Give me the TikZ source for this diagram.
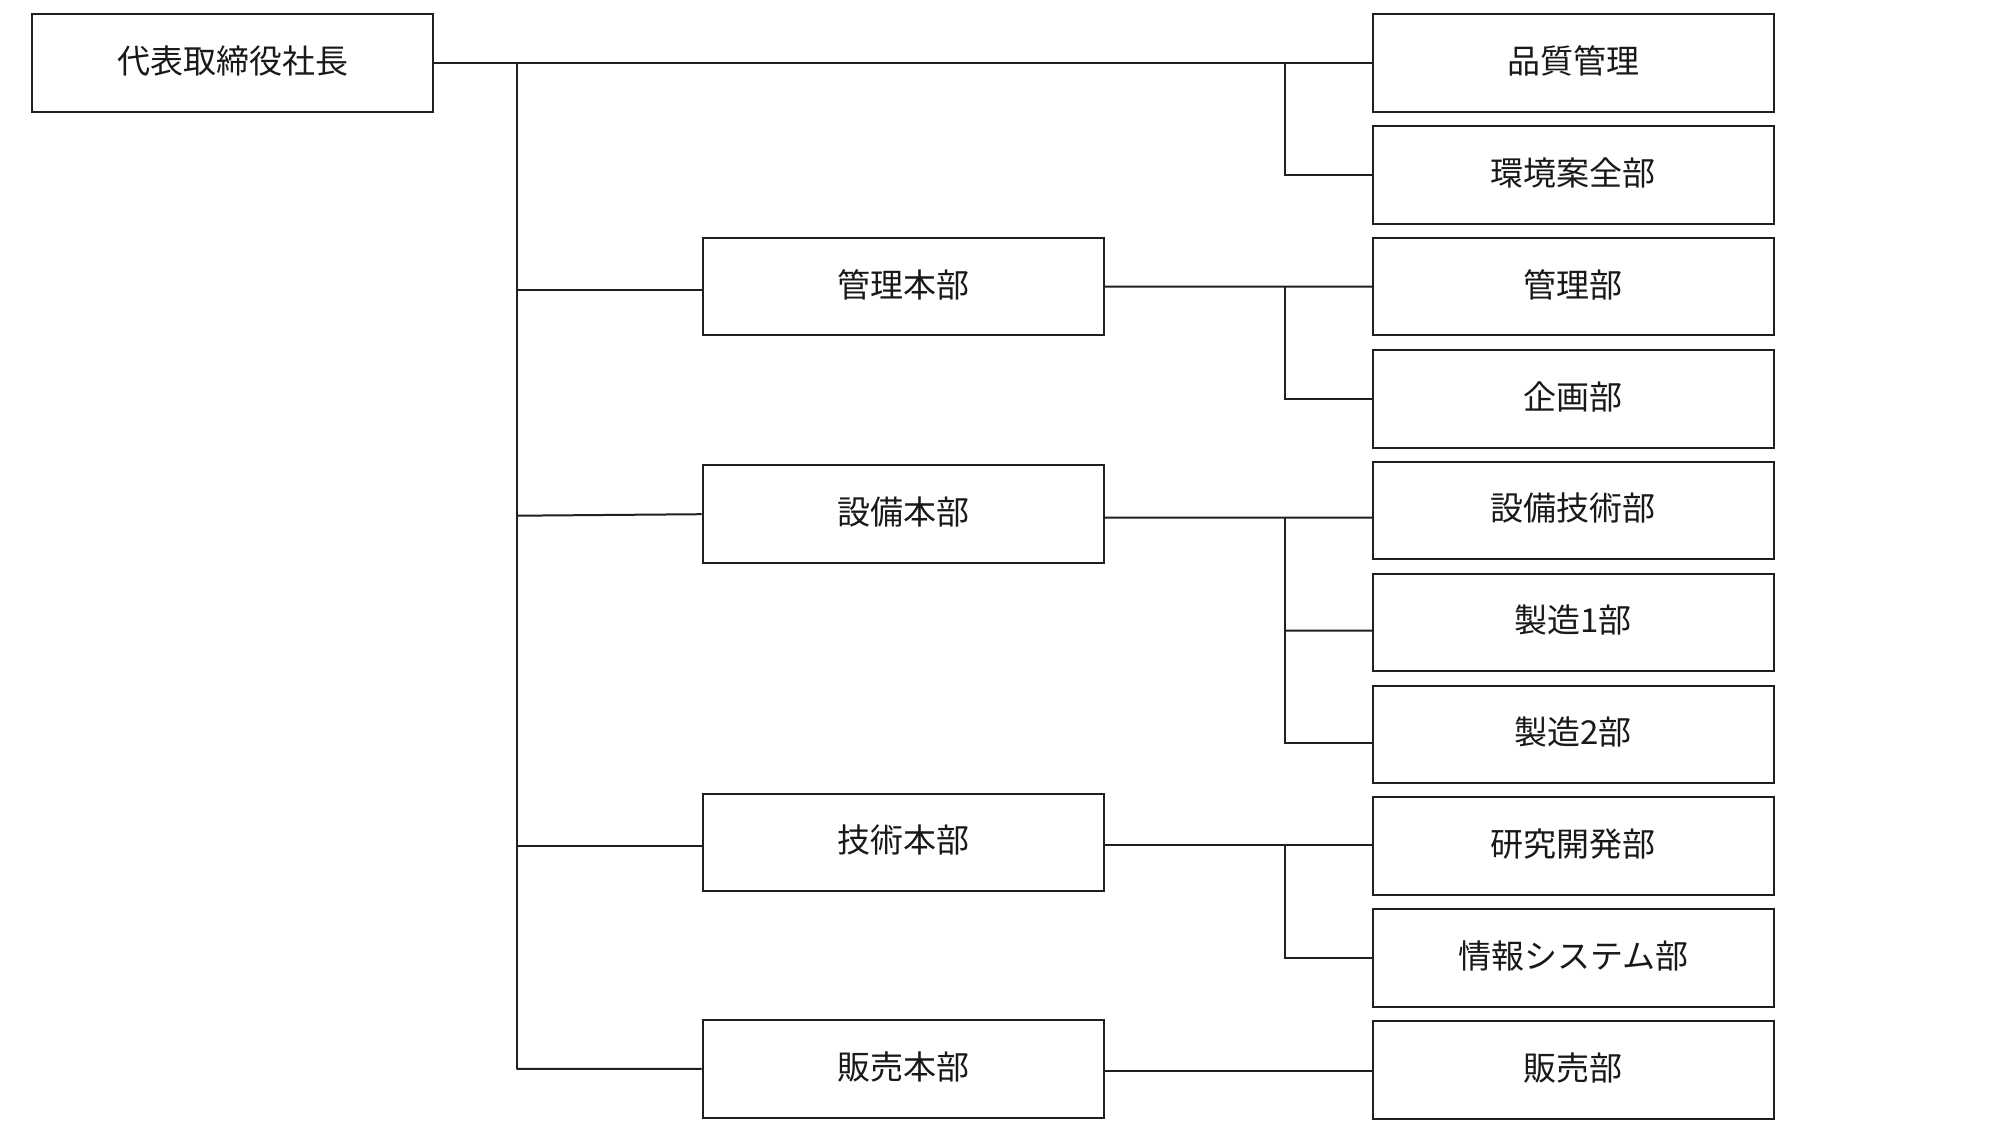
\documentclass[tikz,border=0pt]{standalone}
\usepackage{fontspec}
\setmainfont{Noto Sans CJK JP}
\usetikzlibrary{calc}
\newcommand\orglbl[1]{\raisebox{3.4pt}{#1}}
\begin{document}
\begin{tikzpicture}[x=0.5pt,y=-0.5pt,
  orgbox/.style={draw=black!88,line width=1pt,minimum width=200.5pt,minimum height=48.8pt,inner sep=0pt,font=\fontsize{16.5pt}{18pt}\selectfont,text=black!90},
  conn/.style={draw=black!88,line width=1pt}]
\useasboundingbox (0,0) rectangle (2000,1125);
% top node
\node[orgbox] (ceo) at (232.8,62.85) {\orglbl{代表取締役社長}};
% middle column
\node[orgbox] (khq) at (903,286.6) {\orglbl{管理本部}};
\node[orgbox] (shq) at (903,514.2) {\orglbl{設備本部}};
\node[orgbox] (ghq) at (903,842.5) {\orglbl{技術本部}};
\node[orgbox] (hhq) at (903,1068.9) {\orglbl{販売本部}};
% right column
\node[orgbox] (qm)  at (1573.25,62.85) {\orglbl{品質管理}};
\node[orgbox] (env) at (1573.25,174.85) {\orglbl{環境案全部}};
\node[orgbox] (kb)  at (1573.25,286.5) {\orglbl{管理部}};
\node[orgbox] (kk)  at (1573.25,398.85) {\orglbl{企画部}};
\node[orgbox] (sg)  at (1573.25,510.5) {\orglbl{設備技術部}};
\node[orgbox] (s1)  at (1573.25,622.5) {\orglbl{製造1部}};
\node[orgbox] (s2)  at (1573.25,734.5) {\orglbl{製造2部}};
\node[orgbox] (kn)  at (1573.25,846.2) {\orglbl{研究開発部}};
\node[orgbox] (js)  at (1573.25,958.2) {\orglbl{情報システム部}};
\node[orgbox] (hb)  at (1573.25,1069.9) {\orglbl{販売部}};
% junction coordinates
\coordinate (ttop) at (516.5,62.85);
\coordinate (tbot) at (516.5,1068.8);
\coordinate (bq) at (1285,62.85);
\coordinate (bk) at (1285,286.6);
\coordinate (bs) at (1285,517.7);
\coordinate (bg) at (1285,845);
% CEO line to quality and trunk
\draw[conn] (ceo.east) -- (qm.west);
\draw[conn] (bq) |- (env.west);
\draw[conn] (ttop) -- (tbot);
% trunk branches
\draw[conn] ($(ttop|-khq.west)+(0,3.4)$) -- ([yshift=-1.7pt]khq.west);
\draw[conn] ($(ttop|-shq.west)+(0,1.5)$) -- (shq.west);
\draw[conn] ($(ttop|-ghq.west)+(0,3.5)$) -- ([yshift=-1.75pt]ghq.west);
\draw[conn] (tbot) -- (hhq.west);
% 管理本部
\draw[conn] (khq.east) -- (kb.west);
\draw[conn] (bk) |- (kk.west);
% 設備本部
\draw[conn] ([yshift=-1.75pt]shq.east) -- ([yshift=-3.6pt]sg.west);
\draw[conn] (bs) |- ([yshift=-4.1pt]s2.west);
\draw[conn] (bs|-s1.west) ++(0,8.2) -- ([yshift=-4.1pt]s1.west);
% 技術本部
\draw[conn] ([yshift=-1.25pt]ghq.east) -- (bg) -- (kn.west|-bg);
\draw[conn] (bg) |- (js.west);
% 販売本部
\draw[conn] ([yshift=-1.2pt]hhq.east) -- ([yshift=-0.7pt]hb.west);
\end{tikzpicture}
\end{document}
